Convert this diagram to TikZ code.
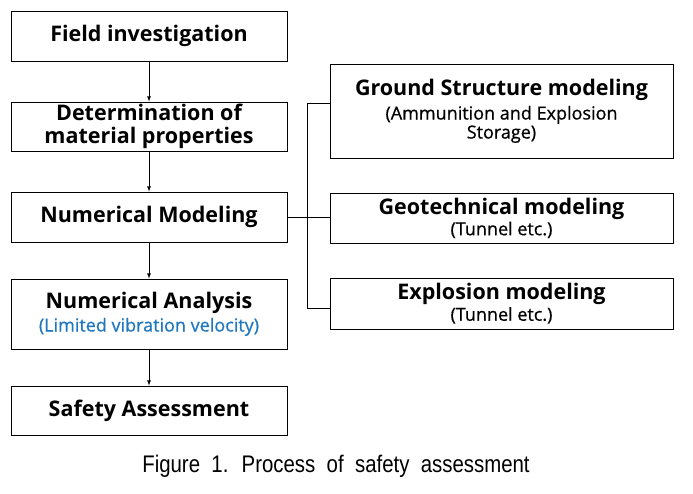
\documentclass[tikz,border=0pt]{standalone}
\usepackage{fontspec}
\usepackage{xcolor}
\setmainfont{Open Sans}
\newfontfamily\capfont[FakeStretch=0.85,WordSpace=2]{Liberation Sans}
\definecolor{notblue}{RGB}{31,119,190}
\newcommand{\subtxt}[1]{{\mdseries\fontsize{18}{20}\selectfont\addfontfeature{FakeBold=0.7}#1}}
\usetikzlibrary{positioning}

\begin{document}
\begin{tikzpicture}[x=1pt,y=1pt,
            stepbox/.style={shape=rectangle, draw, thick, align=center, inner sep=2pt,
                font=\bfseries\fontsize{21.5}{24}\selectfont},
            leftbox/.style={stepbox, minimum width=276pt},
            rightbox/.style={stepbox, minimum width=343pt},
            flow/.style={thick,-{latex[scale=1.3]}}]
        \useasboundingbox (0,0) rectangle (693,-494);

        % main process
        \node[leftbox, minimum height=50pt] (field) at (149,-36) {Field investigation};
        \node[leftbox, minimum height=49pt] (props) at (149,-126.5) {Determination of\\[-1pt]material properties};
        \node[leftbox, minimum height=50pt] (model) at (149,-217) {Numerical Modeling};
        \node[leftbox, minimum height=70pt] (analysis) at (149,-314) {Numerical Analysis\\[-1pt]\subtxt{\color{notblue}(Limited vibration velocity)}};
        \node[leftbox, minimum height=49pt] (safety) at (149,-410.5) {Safety Assessment};

        % modeling types
        \node[rightbox, minimum height=94pt] (ground) at (501.5,-111) {Ground Structure modeling\\\subtxt{(Ammunition and Explosion}\\[-5pt]\subtxt{Storage)}};
        \node[rightbox, minimum height=50pt] (geotech) at (501.5,-218) {Geotechnical modeling\\[-3pt]\subtxt{(Tunnel etc.)}};
        \node[rightbox, minimum height=51pt] (explo) at (501.5,-303.5) {Explosion modeling\\[-3pt]\subtxt{(Tunnel etc.)}};

        \draw[flow] (field) -- (props);
        \draw[flow] (props) -- (model);
        \draw[flow] (model) -- (analysis);
        \draw[flow] (analysis) -- (safety);

        \coordinate (bustop) at (307,-103);
        \coordinate (busbot) at (307,-308);
        \draw[thick] (model.east) -- (geotech.west |- model.east);
        \draw[thick] (ground.west |- bustop) -- (bustop) -- (busbot) -- (explo.west |- busbot);

        \node[font=\capfont\fontsize{24}{26}\selectfont] (caption) at (336,-466) {Figure 1. Process of safety assessment};
    \end{tikzpicture}
\end{document}
